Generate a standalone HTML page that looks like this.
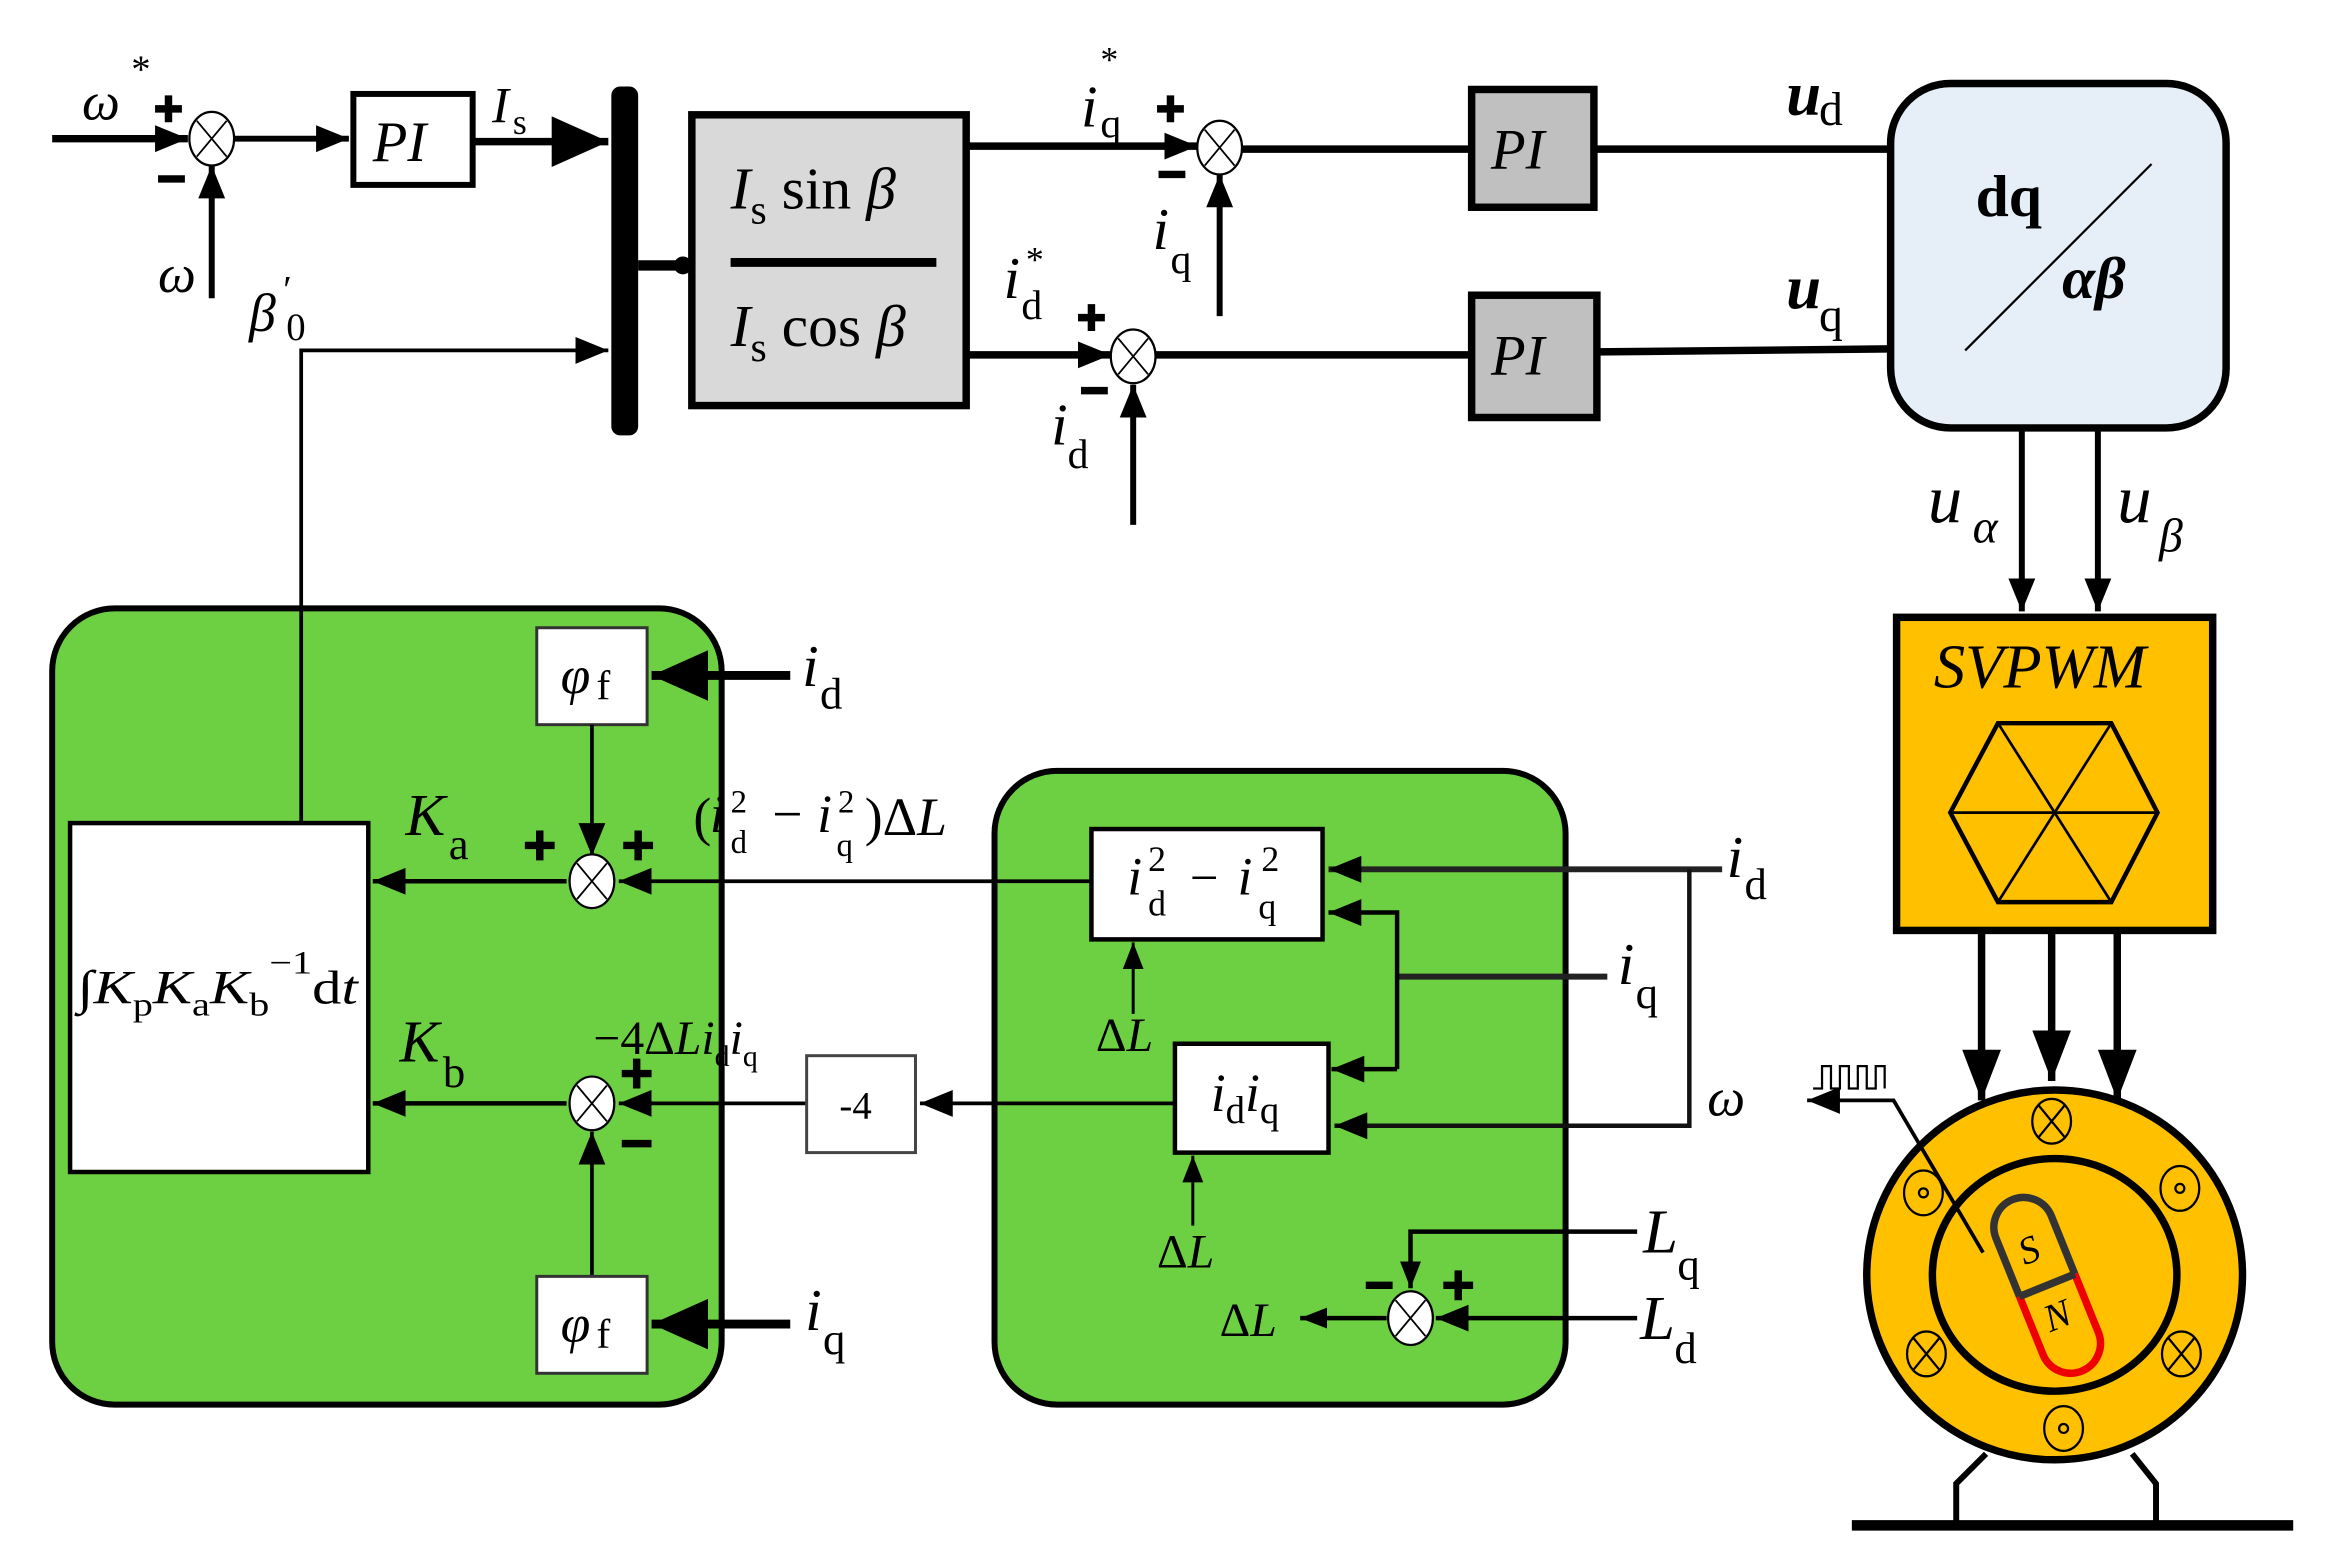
<!DOCTYPE html>
<html><head><meta charset="utf-8"><style>
html,body{margin:0;padding:0;background:#fff}
svg{display:block}
text{font-family:"Liberation Serif",serif;fill:#000}
.i{font-style:italic}
</style></head><body>
<svg width="2326" height="1547" viewBox="0 0 1560 1037.5" preserveAspectRatio="none" xmlns="http://www.w3.org/2000/svg">
<defs>
<marker id="a" markerUnits="userSpaceOnUse" markerWidth="24" markerHeight="20" refX="22" refY="10" orient="auto"><path d="M0,1 L22,10 L0,19 Z" fill="#000"/></marker>
<marker id="b" markerUnits="userSpaceOnUse" markerWidth="40" markerHeight="34" refX="38" refY="17" orient="auto"><path d="M0,0 L38,17 L0,34 Z" fill="#000"/></marker>
<marker id="m" markerUnits="userSpaceOnUse" markerWidth="36" markerHeight="26" refX="34" refY="13" orient="auto"><path d="M0,0 L34,13 L0,26 Z" fill="#000"/></marker>
<marker id="s" markerUnits="userSpaceOnUse" markerWidth="20" markerHeight="16" refX="18" refY="8" orient="auto"><path d="M0,1 L18,8 L0,15 Z" fill="#000"/></marker>
</defs>

<!-- green boxes -->
<rect x="35" y="408" width="449" height="534" rx="42" fill="#6cd042" stroke="#000" stroke-width="4"/>
<rect x="667" y="517" width="383" height="425" rx="42" fill="#6cd042" stroke="#000" stroke-width="4"/>

<!-- plus / minus signs -->
<g stroke="#000" stroke-width="5" fill="none">
<path d="M104,73 H122 M113,64 V82"/><path d="M106,120 H124"/>
<path d="M776,73 H794 M785,64 V82"/><path d="M777,117 H795"/>
<path d="M723,213 H741 M732,204 V222"/><path d="M725,262 H743"/>
<path d="M352,567 H372 M362,557 V577"/><path d="M418,567 H438 M428,557 V577"/>
<path d="M417,720 H437 M427,710 V730"/><path d="M417,767 H437"/>
<path d="M916,862 H934"/><path d="M968,862 H988 M978,852 V872"/>
</g>

<!-- top-left -->
<line x1="35" y1="93" x2="126" y2="93" stroke="#000" stroke-width="5" marker-end="url(#a)"/>
<line x1="142" y1="200" x2="142" y2="111" stroke="#000" stroke-width="4" marker-end="url(#a)"/>
<line x1="156" y1="93" x2="234" y2="93" stroke="#000" stroke-width="4" marker-end="url(#a)"/>
<ellipse cx="142" cy="93" rx="15" ry="18" fill="#fff" stroke="#000" stroke-width="1.5"/>
<path d="M132,81 L152,105 M152,81 L132,105" stroke="#000" stroke-width="1.2"/>
<rect x="237" y="63" width="80" height="61" fill="#fff" stroke="#000" stroke-width="4"/>
<text x="250" y="108" class="i" font-size="38">PI</text>
<line x1="318" y1="95" x2="408" y2="95" stroke="#000" stroke-width="5" marker-end="url(#b)"/>
<text x="330" y="82" class="i" font-size="34">I</text><text x="344" y="90" font-size="24">s</text>
<text x="55" y="80" class="i" font-size="36">ω</text><text x="88" y="55" font-size="26">*</text>
<text x="106" y="196" class="i" font-size="36">ω</text>
<rect x="410" y="58" width="18" height="234" rx="6" fill="#000"/>
<polyline points="202,552 202,235 408,235" fill="none" stroke="#000" stroke-width="2.5" marker-end="url(#a)"/>
<text x="167" y="222" class="i" font-size="36">β</text><text x="190" y="203" font-size="26">′</text><text x="192" y="228" font-size="26">0</text>
<line x1="428" y1="178" x2="463" y2="178" stroke="#000" stroke-width="7"/>
<circle cx="458" cy="178" r="6" fill="#000"/>
<rect x="464" y="77" width="184" height="195" fill="#d9d9d9" stroke="#000" stroke-width="5"/>
<text x="490" y="140" font-size="40"><tspan class="i">I</tspan><tspan font-size="28" dy="10">s</tspan><tspan dy="-10"> sin </tspan><tspan class="i">β</tspan></text>
<line x1="490" y1="176" x2="628" y2="176" stroke="#000" stroke-width="6"/>
<text x="490" y="232" font-size="40"><tspan class="i">I</tspan><tspan font-size="28" dy="10">s</tspan><tspan dy="-10"> cos </tspan><tspan class="i">β</tspan></text>

<!-- q channel -->
<line x1="648" y1="98" x2="803" y2="98" stroke="#000" stroke-width="5" marker-end="url(#a)"/>
<line x1="818" y1="212" x2="818" y2="117" stroke="#000" stroke-width="4" marker-end="url(#a)"/>
<line x1="832" y1="100" x2="986" y2="100" stroke="#000" stroke-width="5"/>
<ellipse cx="818" cy="99" rx="15" ry="18" fill="#fff" stroke="#000" stroke-width="1.5"/>
<path d="M808,87 L828,111 M828,87 L808,111" stroke="#000" stroke-width="1.2"/>
<text x="725" y="85" class="i" font-size="40">i</text><text x="738" y="92" font-size="28">q</text><text x="738" y="48" font-size="24">*</text>
<text x="773" y="167" class="i" font-size="40">i</text><text x="785" y="183" font-size="28">q</text>
<rect x="987" y="60" width="82" height="79" fill="#c0c0c0" stroke="#000" stroke-width="5"/>
<text x="1000" y="113" class="i" font-size="38">PI</text>
<line x1="1069" y1="100" x2="1268" y2="100" stroke="#000" stroke-width="5"/>
<text x="1198" y="77" class="i" font-size="42" font-weight="bold">u</text><text x="1220" y="84" font-size="32">d</text>

<!-- d channel -->
<line x1="648" y1="238" x2="745" y2="238" stroke="#000" stroke-width="5" marker-end="url(#a)"/>
<line x1="760" y1="352" x2="760" y2="258" stroke="#000" stroke-width="4" marker-end="url(#a)"/>
<line x1="774" y1="238" x2="986" y2="238" stroke="#000" stroke-width="5"/>
<ellipse cx="760" cy="239" rx="15" ry="18" fill="#fff" stroke="#000" stroke-width="1.5"/>
<path d="M750,227 L770,251 M770,227 L750,251" stroke="#000" stroke-width="1.2"/>
<text x="673" y="200" class="i" font-size="40">i</text><text x="685" y="214" font-size="28">d</text><text x="688" y="182" font-size="24">*</text>
<text x="705" y="298" class="i" font-size="40">i</text><text x="716" y="314" font-size="28">d</text>
<rect x="987" y="198" width="84" height="82" fill="#c0c0c0" stroke="#000" stroke-width="5"/>
<text x="1000" y="251" class="i" font-size="38">PI</text>
<line x1="1071" y1="236" x2="1268" y2="234" stroke="#000" stroke-width="5"/>
<text x="1198" y="207" class="i" font-size="42" font-weight="bold">u</text><text x="1220" y="222" font-size="32">q</text>

<!-- dq/ab -->
<rect x="1268" y="56" width="225" height="231" rx="40" fill="#e6eef8" stroke="#000" stroke-width="5"/>
<text x="1325" y="145" font-size="40" font-weight="bold">dq</text>
<line x1="1318" y1="235" x2="1443" y2="110" stroke="#000" stroke-width="1.5"/>
<text x="1383" y="200" class="i" font-size="40" font-weight="bold">αβ</text>
<line x1="1356" y1="288" x2="1356" y2="410" stroke="#000" stroke-width="4" marker-end="url(#a)"/>
<line x1="1407" y1="288" x2="1407" y2="410" stroke="#000" stroke-width="4" marker-end="url(#a)"/>
<text x="1293" y="350" class="i" font-size="46">u</text><text x="1323" y="364" class="i" font-size="32">α</text>
<text x="1420" y="350" class="i" font-size="46">u</text><text x="1448" y="370" class="i" font-size="32">β</text>

<!-- SVPWM -->
<rect x="1272" y="414" width="212" height="210" fill="#ffc000" stroke="#000" stroke-width="5"/>
<text x="1297" y="461" class="i" font-size="42">SVPWM</text>
<polygon points="1340,485 1416,485 1447,545 1416,605 1340,605 1308,545" fill="none" stroke="#000" stroke-width="3"/>
<path d="M1308,545 L1447,545 M1340,485 L1416,605 M1416,485 L1340,605" stroke="#000" stroke-width="1.8"/>
<line x1="1329" y1="625" x2="1329" y2="738" stroke="#000" stroke-width="5" marker-end="url(#m)"/>
<line x1="1376" y1="625" x2="1376" y2="725" stroke="#000" stroke-width="5" marker-end="url(#m)"/>
<line x1="1420" y1="625" x2="1420" y2="738" stroke="#000" stroke-width="5" marker-end="url(#m)"/>

<!-- motor -->
<path d="M1332,975 L1312,995 L1312,1022 M1430,975 L1446,995 L1446,1022" fill="none" stroke="#000" stroke-width="4"/>
<line x1="1242" y1="1023" x2="1538" y2="1023" stroke="#000" stroke-width="7"/>
<ellipse cx="1378" cy="855" rx="126" ry="124" fill="#ffc000" stroke="#000" stroke-width="5"/>
<ellipse cx="1378" cy="855" rx="82" ry="78" fill="none" stroke="#000" stroke-width="5"/>
<g stroke="#000" stroke-width="1.5" fill="none">
<ellipse cx="1376" cy="752" rx="13" ry="15"/><path d="M1367,741 L1385,763 M1385,741 L1367,763"/>
<ellipse cx="1292" cy="908" rx="13" ry="15"/><path d="M1283,897 L1301,919 M1301,897 L1283,919"/>
<ellipse cx="1463" cy="908" rx="13" ry="15"/><path d="M1454,897 L1472,919 M1472,897 L1454,919"/>
<ellipse cx="1290" cy="800" rx="13" ry="15"/><circle cx="1290" cy="800" r="3"/>
<ellipse cx="1462" cy="797" rx="13" ry="15"/><circle cx="1462" cy="797" r="3"/>
<ellipse cx="1384" cy="958" rx="13" ry="15"/><circle cx="1384" cy="958" r="3"/>
</g>
<g transform="translate(1373,862) rotate(-22)">
<path d="M-20,0 L-20,-42 A20,20 0 0 1 20,-42 L20,0" fill="none" stroke="#333" stroke-width="5"/>
<path d="M-20,0 L-20,42 A20,20 0 0 0 20,42 L20,0" fill="none" stroke="#e00" stroke-width="5"/>
<line x1="-20" y1="0" x2="20" y2="0" stroke="#333" stroke-width="5"/>
<text x="-9" y="-18" class="i" font-size="26">S</text>
<text x="-10" y="30" class="i" font-size="26">N</text>
</g>
<polyline points="1330,840 1270,738 1212,738" fill="none" stroke="#000" stroke-width="2.5" marker-end="url(#a)"/>
<polyline points="1216,730 1222,730 1222,715 1228,715 1228,730 1234,730 1234,715 1240,715 1240,730 1246,730 1246,715 1252,715 1252,730 1258,730 1258,715 1264,715 1264,730" fill="none" stroke="#000" stroke-width="1.5"/>
<text x="1145" y="748" class="i" font-size="36">ω</text>

<!-- left green content -->
<rect x="360" y="421" width="74" height="65" fill="#fff" stroke="#333" stroke-width="2"/>
<text x="376" y="465" class="i" font-size="36">φ</text><text x="400" y="469" font-size="28">f</text>
<line x1="530" y1="453" x2="437" y2="453" stroke="#000" stroke-width="6" marker-end="url(#b)"/>
<text x="538" y="460" class="i" font-size="40">i</text><text x="550" y="475" font-size="30">d</text>
<line x1="397" y1="486" x2="397" y2="574" stroke="#000" stroke-width="2.5" marker-end="url(#a)"/>
<rect x="47" y="552" width="200" height="234" fill="#fff" stroke="#000" stroke-width="3"/>
<text x="52" y="673" font-size="32" textLength="188" lengthAdjust="spacingAndGlyphs"><tspan>∫</tspan><tspan class="i">K</tspan><tspan font-size="22" dy="8">p</tspan><tspan class="i" dy="-8">K</tspan><tspan font-size="22" dy="8">a</tspan><tspan class="i" dy="-8">K</tspan><tspan font-size="22" dy="8">b</tspan><tspan font-size="22" dy="-28">−1</tspan><tspan dy="20">d</tspan><tspan class="i">t</tspan></text>
<line x1="380" y1="591" x2="250" y2="591" stroke="#000" stroke-width="3" marker-end="url(#a)"/>
<line x1="733" y1="591" x2="415" y2="591" stroke="#000" stroke-width="2.5" marker-end="url(#a)"/>
<ellipse cx="397" cy="591" rx="15" ry="18" fill="#fff" stroke="#000" stroke-width="1.5"/>
<path d="M387,579 L407,603 M407,579 L387,603" stroke="#000" stroke-width="1.2"/>
<text x="272" y="560" class="i" font-size="40">K</text><text x="301" y="576" font-size="30">a</text>
<text x="465" y="560" font-size="36">(</text>
<text x="476" y="558" class="i" font-size="36">i</text><text x="490" y="572" font-size="22">d</text><text x="490" y="545" font-size="22">2</text>
<text x="518" y="558" font-size="36">−</text>
<text x="548" y="558" class="i" font-size="36">i</text><text x="561" y="574" font-size="22">q</text><text x="562" y="545" font-size="22">2</text>
<text x="580" y="560" font-size="36">)Δ<tspan class="i">L</tspan></text>

<line x1="380" y1="740" x2="250" y2="740" stroke="#000" stroke-width="3" marker-end="url(#a)"/>
<line x1="541" y1="740" x2="415" y2="740" stroke="#000" stroke-width="2.5" marker-end="url(#a)"/>
<line x1="397" y1="856" x2="397" y2="759" stroke="#000" stroke-width="2.5" marker-end="url(#a)"/>
<ellipse cx="397" cy="740" rx="15" ry="18" fill="#fff" stroke="#000" stroke-width="1.5"/>
<path d="M387,728 L407,752 M407,728 L387,752" stroke="#000" stroke-width="1.2"/>
<text x="268" y="712" class="i" font-size="40">K</text><text x="297" y="729" font-size="30">b</text>
<text x="398" y="707" font-size="32">−4Δ<tspan class="i">L</tspan><tspan class="i">i</tspan><tspan font-size="20" dy="8">d</tspan><tspan class="i" dy="-8">i</tspan><tspan font-size="20" dy="8">q</tspan></text>
<rect x="541" y="708" width="73" height="65" fill="#fff" stroke="#444" stroke-width="2"/>
<text x="563" y="750" font-size="26">-4</text>
<line x1="788" y1="740" x2="617" y2="740" stroke="#000" stroke-width="2.5" marker-end="url(#a)"/>
<rect x="360" y="856" width="74" height="65" fill="#fff" stroke="#333" stroke-width="2"/>
<text x="376" y="900" class="i" font-size="36">φ</text><text x="400" y="904" font-size="28">f</text>
<line x1="530" y1="888" x2="437" y2="888" stroke="#000" stroke-width="6" marker-end="url(#b)"/>
<text x="540" y="892" class="i" font-size="40">i</text><text x="552" y="908" font-size="30">q</text>

<!-- right green content -->
<rect x="732" y="556" width="155" height="74" fill="#fff" stroke="#000" stroke-width="3"/>
<text x="756" y="600" class="i" font-size="36">i</text><text x="770" y="614" font-size="24">d</text><text x="770" y="584" font-size="24">2</text>
<text x="798" y="600" font-size="34">−</text>
<text x="830" y="600" class="i" font-size="36">i</text><text x="844" y="616" font-size="24">q</text><text x="846" y="584" font-size="24">2</text>
<rect x="788" y="700" width="103" height="73" fill="#fff" stroke="#000" stroke-width="3"/>
<text x="812" y="745" font-size="36"><tspan class="i">i</tspan><tspan font-size="26" dy="8">d</tspan><tspan class="i" dy="-8">i</tspan><tspan font-size="26" dy="8">q</tspan></text>
<line x1="1155" y1="583" x2="891" y2="583" stroke="#222" stroke-width="4" marker-end="url(#a)"/>
<polyline points="1133,583 1133,755 895,755" fill="none" stroke="#111" stroke-width="3" marker-end="url(#a)"/>
<line x1="1078" y1="655" x2="937" y2="655" stroke="#222" stroke-width="4"/>
<polyline points="937,717 937,612 891,612" fill="none" stroke="#000" stroke-width="3" marker-end="url(#a)"/>
<line x1="937" y1="717" x2="893" y2="717" stroke="#000" stroke-width="3" marker-end="url(#a)"/>
<text x="1158" y="588" class="i" font-size="40">i</text><text x="1170" y="603" font-size="30">d</text>
<text x="1085" y="660" class="i" font-size="40">i</text><text x="1097" y="676" font-size="30">q</text>
<line x1="760" y1="680" x2="760" y2="632" stroke="#000" stroke-width="2" marker-end="url(#s)"/>
<text x="735" y="705" font-size="32">Δ<tspan class="i">L</tspan></text>
<line x1="800" y1="822" x2="800" y2="775" stroke="#000" stroke-width="2" marker-end="url(#s)"/>
<text x="776" y="850" font-size="32">Δ<tspan class="i">L</tspan></text>
<polyline points="1098,826 946,826 946,864" fill="none" stroke="#000" stroke-width="3" marker-end="url(#s)"/>
<line x1="1098" y1="884" x2="963" y2="884" stroke="#000" stroke-width="3" marker-end="url(#a)"/>
<line x1="930" y1="884" x2="872" y2="884" stroke="#000" stroke-width="3" marker-end="url(#s)"/>
<ellipse cx="946" cy="884" rx="15" ry="18" fill="#fff" stroke="#000" stroke-width="1.5"/>
<path d="M936,872 L956,896 M956,872 L936,896" stroke="#000" stroke-width="1.2"/>
<text x="818" y="896" font-size="32">Δ<tspan class="i">L</tspan></text>
<text x="1102" y="840" class="i" font-size="42">L</text><text x="1125" y="858" font-size="30">q</text>
<text x="1100" y="898" class="i" font-size="42">L</text><text x="1123" y="914" font-size="30">d</text>
</svg>
</body></html>
